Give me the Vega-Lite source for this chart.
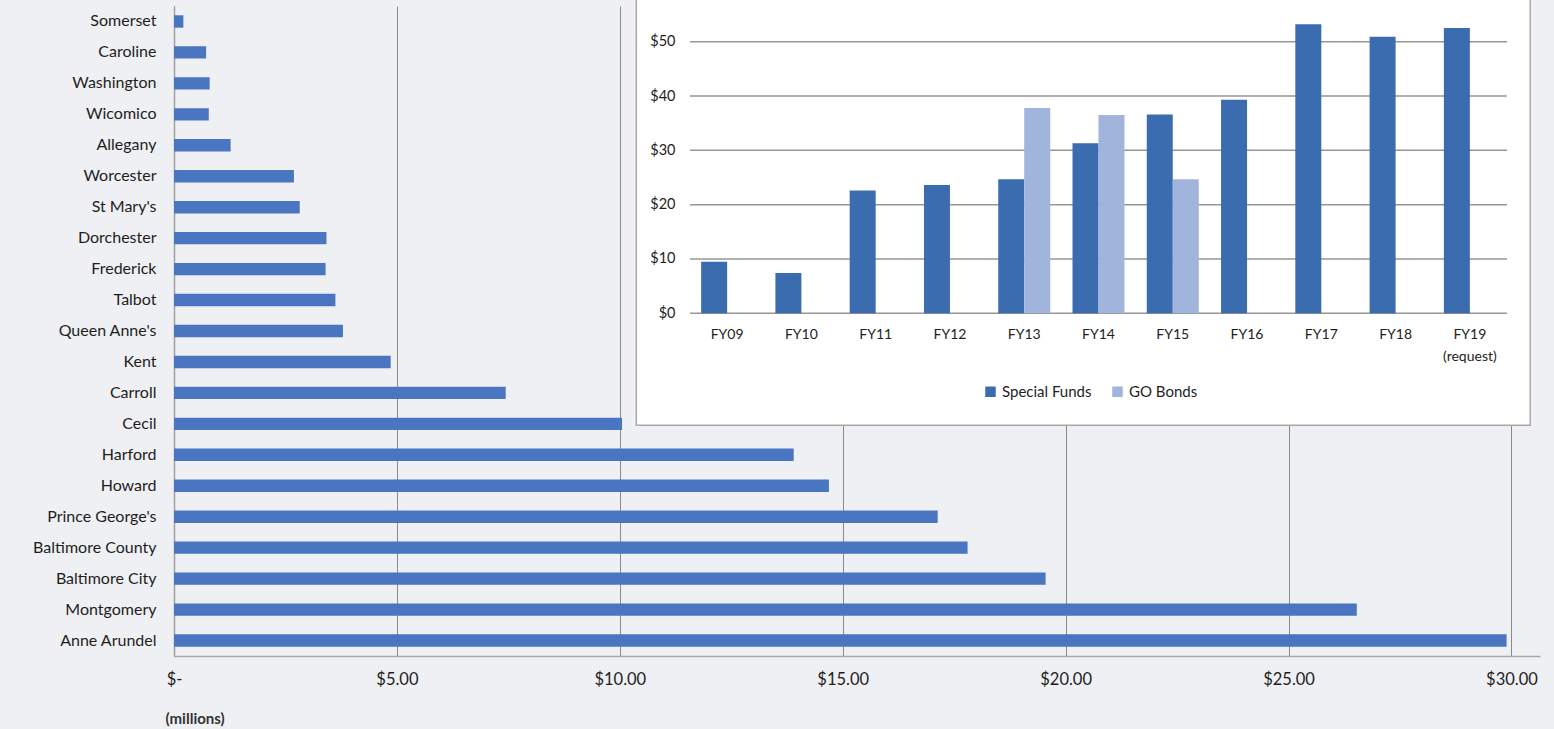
{
  "$schema": "https://vega.github.io/schema/vega-lite/v6.json",
  "width": 1366,
  "height": 650,
  "autosize": {"type": "none"},
  "padding": {"left": 174, "top": 6, "right": 14, "bottom": 73},
  "background": "#eff0f3",
  "config": {
    "view": {"stroke": null},
    "font": "Lato",
    "axis": {"labelFont": "Lato", "titleFont": "Lato", "labelColor": "#1e1e1e"},
    "legend": {"labelFont": "Lato"}
  },
  "datasets": {
    "counties": [
      {"county": "Somerset", "amount": 0.21},
      {"county": "Caroline", "amount": 0.72},
      {"county": "Washington", "amount": 0.8},
      {"county": "Wicomico", "amount": 0.78},
      {"county": "Allegany", "amount": 1.27},
      {"county": "Worcester", "amount": 2.69},
      {"county": "St  Mary's", "amount": 2.82},
      {"county": "Dorchester", "amount": 3.42},
      {"county": "Frederick", "amount": 3.4},
      {"county": "Talbot", "amount": 3.62},
      {"county": "Queen Anne's", "amount": 3.79},
      {"county": "Kent", "amount": 4.86},
      {"county": "Carroll", "amount": 7.44},
      {"county": "Cecil", "amount": 10.05},
      {"county": "Harford", "amount": 13.9},
      {"county": "Howard", "amount": 14.69},
      {"county": "Prince George's", "amount": 17.13},
      {"county": "Baltimore County", "amount": 17.8},
      {"county": "Baltimore City", "amount": 19.55},
      {"county": "Montgomery", "amount": 26.53},
      {"county": "Anne Arundel", "amount": 29.89}
    ],
    "budget": [
      {"fy": "FY09", "series": "Special Funds", "value": 9.5},
      {"fy": "FY10", "series": "Special Funds", "value": 7.4},
      {"fy": "FY11", "series": "Special Funds", "value": 22.6},
      {"fy": "FY12", "series": "Special Funds", "value": 23.6},
      {"fy": "FY13", "series": "Special Funds", "value": 24.7},
      {"fy": "FY13", "series": "GO Bonds", "value": 37.8},
      {"fy": "FY14", "series": "Special Funds", "value": 31.3},
      {"fy": "FY14", "series": "GO Bonds", "value": 36.5},
      {"fy": "FY15", "series": "Special Funds", "value": 36.6},
      {"fy": "FY15", "series": "GO Bonds", "value": 24.7},
      {"fy": "FY16", "series": "Special Funds", "value": 39.3},
      {"fy": "FY17", "series": "Special Funds", "value": 53.2},
      {"fy": "FY18", "series": "Special Funds", "value": 50.9},
      {"fy": "FY19", "series": "Special Funds", "value": 52.5}
    ],
    "gridlines": [
      {"level": 0}, {"level": 10}, {"level": 20}, {"level": 30}, {"level": 40}, {"level": 50}
    ],
    "frame": [{"part": "inset chart frame"}]
  },
  "layer": [
    {
      "data": {"name": "counties"},
      "mark": {"type": "bar", "color": "#4a75c1"},
      "encoding": {
        "y": {
          "field": "county",
          "type": "nominal",
          "sort": null,
          "scale": {"paddingInner": 0.6, "paddingOuter": 0.3},
          "axis": {
            "title": null,
            "orient": "left",
            "ticks": false,
            "domain": true,
            "domainColor": "#a0a0a0",
            "domainWidth": 1.5,
            "labelFontSize": 16,
            "labelPadding": 18,
            "grid": false
          }
        },
        "x": {
          "field": "amount",
          "type": "quantitative",
          "scale": {"domain": [0, 30.64], "nice": false, "zero": true},
          "axis": {
            "orient": "bottom",
            "values": [0, 5, 10, 15, 20, 25, 30],
            "labelExpr": "datum.value == 0 ? '$-' : '$' + format(datum.value, '.2f')",
            "labelFlush": false,
            "labelFontSize": 16.5,
            "labelPadding": 15,
            "ticks": false,
            "domain": true,
            "domainColor": "#a8a8a8",
            "domainWidth": 1.5,
            "grid": true,
            "gridColor": "#8a8a8a",
            "gridWidth": 1,
            "title": "(millions)",
            "titleFontSize": 15,
            "titleFontWeight": "bold",
            "titleColor": "#333333",
            "titleAnchor": "start",
            "titleAlign": "left",
            "titleBaseline": "middle",
            "titleX": -9,
            "titleY": 62
          }
        }
      }
    },
    {
      "data": {"name": "frame"},
      "mark": {"type": "rect", "fill": "#ffffff", "stroke": "#a9a9a9", "strokeWidth": 1.5},
      "encoding": {
        "x": {"datum": 10.37, "type": "quantitative", "scale": {"domain": [0, 30.64], "nice": false}, "axis": null},
        "x2": {"datum": 30.42},
        "y": {"datum": 70, "type": "quantitative", "scale": {"domain": [0, 50], "range": [307.3, 35.7], "nice": false}, "axis": null},
        "y2": {"datum": -20.6}
      }
    },
    {
      "layer": [
        {
          "data": {"name": "gridlines"},
          "mark": {"type": "rule", "color": "#969696", "strokeWidth": 1.5},
          "encoding": {
            "y": {"field": "level", "type": "quantitative"},
            "x": {"datum": "FY09", "type": "nominal", "bandPosition": -0.214},
            "x2": {"datum": "FY19", "bandPosition": 1.214}
          }
        },
        {
          "data": {"name": "budget"},
          "mark": {"type": "bar"},
          "encoding": {
            "x": {"field": "fy", "type": "nominal"},
            "xOffset": {
              "field": "series",
              "type": "nominal",
              "scale": {"domain": ["Special Funds", "GO Bonds"], "paddingInner": 0, "paddingOuter": 0}
            },
            "y": {"field": "value", "type": "quantitative"},
            "color": {
              "field": "series",
              "type": "nominal",
              "scale": {"domain": ["Special Funds", "GO Bonds"], "range": ["#3c6cb0", "#a0b4dc"]},
              "legend": {
                "title": null,
                "orient": "none",
                "direction": "horizontal",
                "legendX": 809,
                "legendY": 378,
                "symbolType": "square",
                "symbolSize": 110,
                "symbolStrokeWidth": 0,
                "labelFontSize": 15,
                "labelColor": "#1e1e1e",
                "labelOffset": 4,
                "columnPadding": 18
              }
            }
          }
        }
      ],
      "encoding": {
        "x": {
          "scale": {
            "domain": ["FY09", "FY10", "FY11", "FY12", "FY13", "FY14", "FY15", "FY16", "FY17", "FY18", "FY19"],
            "range": [516, 1333],
            "paddingInner": 0.3,
            "paddingOuter": 0.15
          },
          "axis": {
            "title": null,
            "orient": "bottom",
            "offset": -342.7,
            "domain": false,
            "ticks": false,
            "grid": false,
            "labelAngle": 0,
            "labelFontSize": 14,
            "labelPadding": 14,
            "labelLineHeight": 22,
            "labelExpr": "datum.value == 'FY19' ? ['FY19', '(request)'] : datum.value",
            "zindex": 1
          }
        },
        "y": {
          "scale": {"domain": [0, 50], "range": [307.3, 35.7], "nice": false},
          "axis": {
            "title": null,
            "orient": "left",
            "offset": -516,
            "values": [0, 10, 20, 30, 40, 50],
            "labelExpr": "'$' + datum.value",
            "domain": false,
            "ticks": false,
            "grid": false,
            "labelFontSize": 14.5,
            "labelPadding": 15,
            "zindex": 1
          }
        }
      }
    }
  ],
  "resolve": {
    "scale": {"x": "independent", "y": "independent", "color": "independent"},
    "axis": {"x": "independent", "y": "independent"}
  }
}
